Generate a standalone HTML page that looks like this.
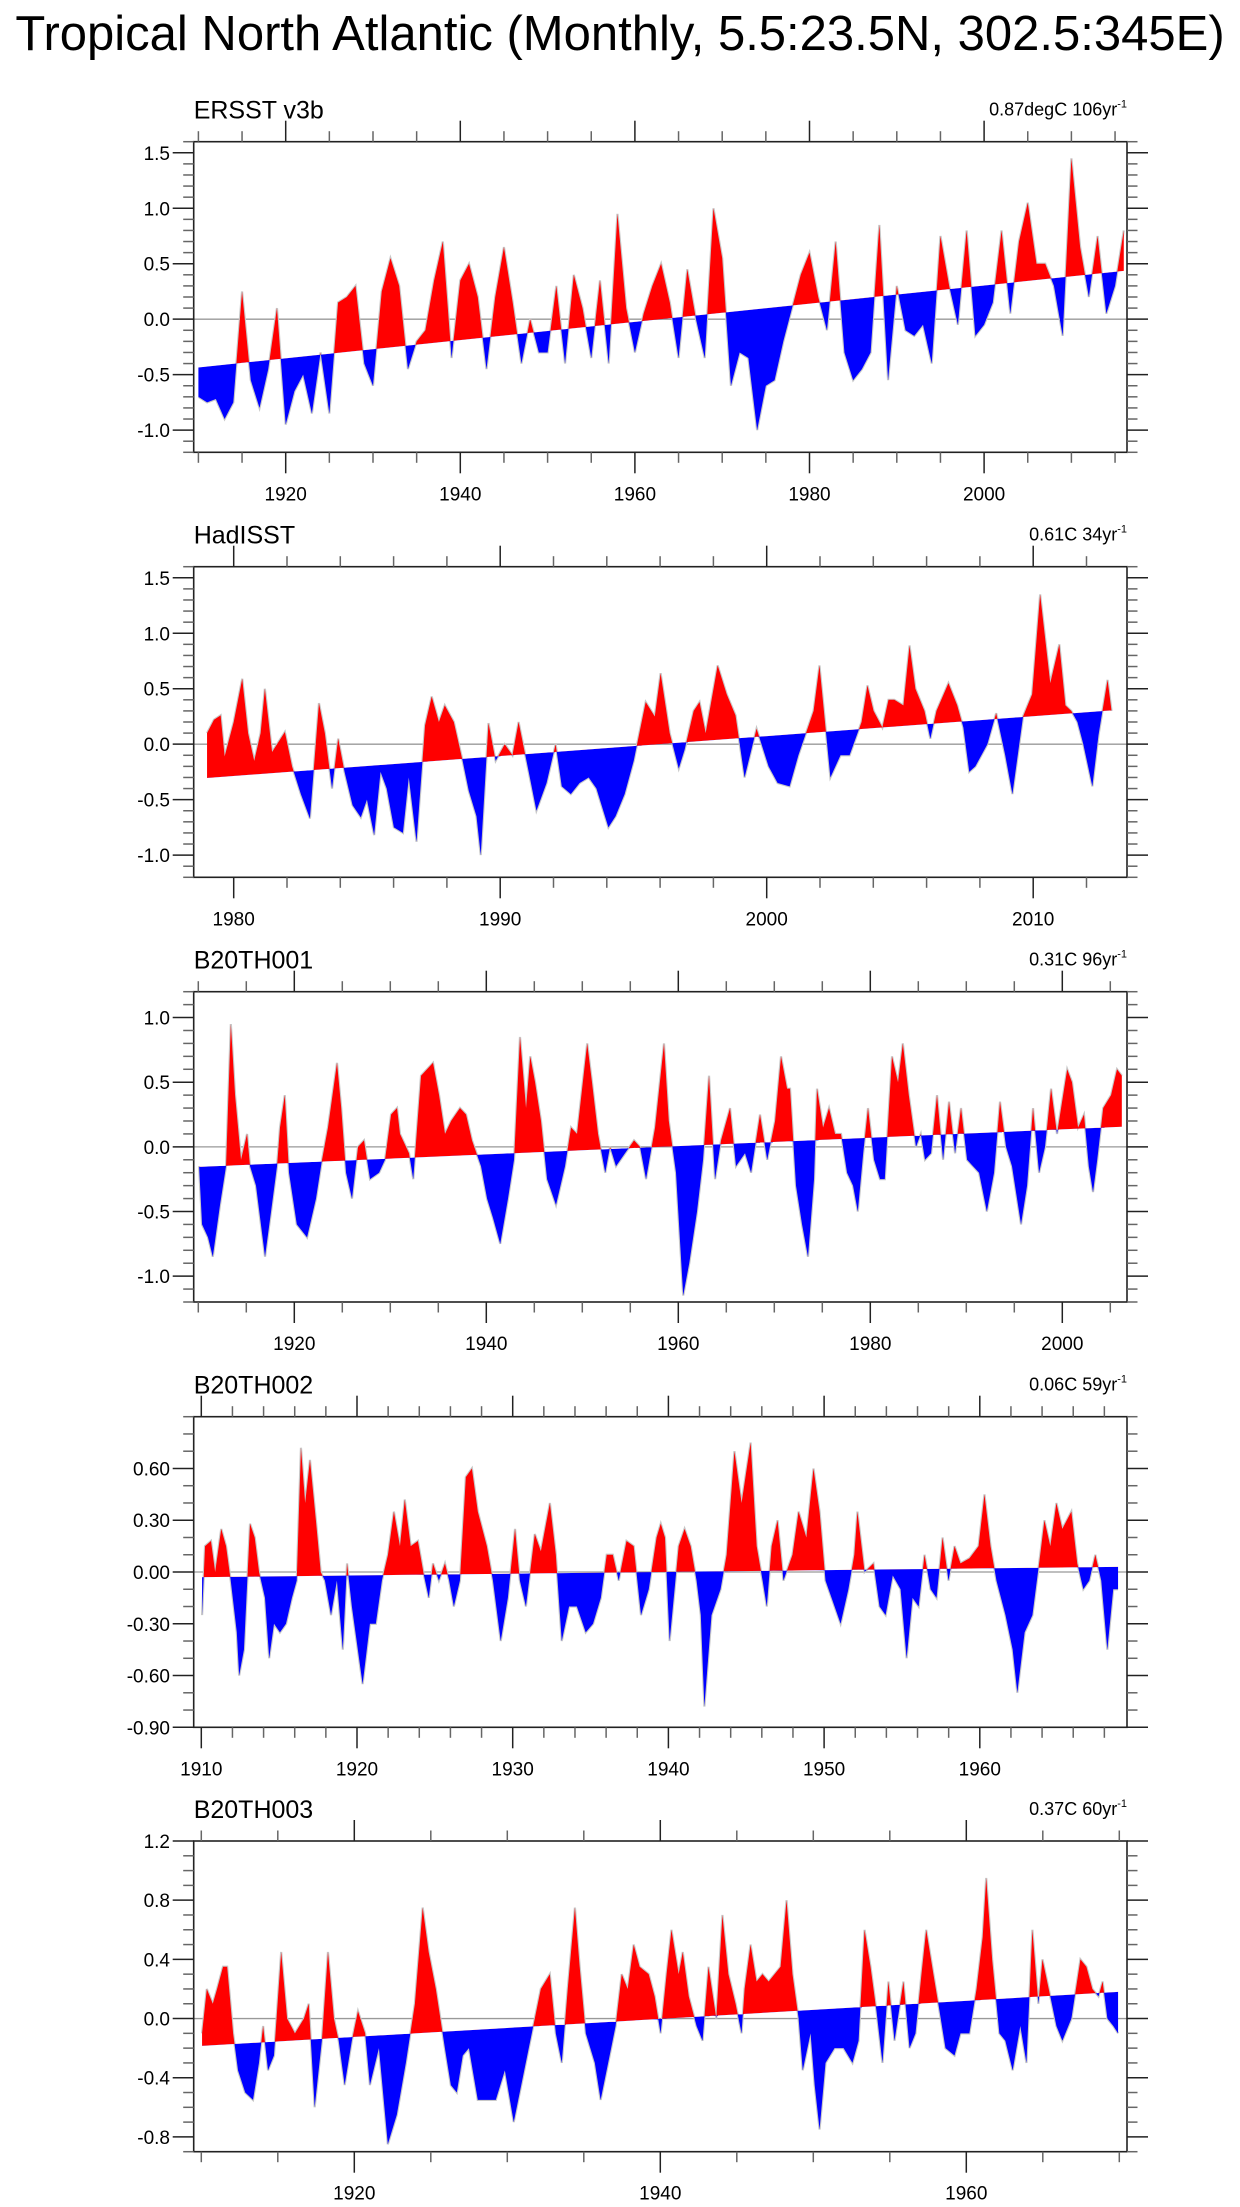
<!DOCTYPE html>
<html><head><meta charset="utf-8"><title>Tropical North Atlantic</title>
<style>
html,body{margin:0;padding:0;background:#fff;}
svg{display:block;font-family:"Liberation Sans",Arial,sans-serif;}
</style></head>
<body>
<svg id="chart" width="1240" height="2207" viewBox="0 0 1240 2207" xmlns="http://www.w3.org/2000/svg">
<rect x="0" y="0" width="1240" height="2207" fill="#fff"/>
<text x="620" y="50" font-size="49" text-anchor="middle" fill="#000">Tropical North Atlantic (Monthly, 5.5:23.5N, 302.5:345E)</text>
</svg>
<script>
// ---------- Panel 1: ERSST v3b (annual samples of monthly anomaly) ----------
const p1Times = [];
for (let y = 1910; y <= 2016; y++) p1Times.push(y);
const p1Values = [-0.7,-0.75,-0.72,-0.9,-0.75,0.25,-0.55,-0.8,-0.45,0.1,
-0.95,-0.65,-0.5,-0.85,-0.3,-0.85,0.15,0.2,0.3,-0.4,
-0.6,0.25,0.55,0.3,-0.45,-0.2,-0.1,0.35,0.7,-0.35,
0.35,0.5,0.2,-0.45,0.2,0.65,0.15,-0.4,0.0,-0.3,
-0.3,0.3,-0.4,0.4,0.1,-0.35,0.35,-0.4,0.95,0.1,
-0.3,0.05,0.3,0.5,0.15,-0.35,0.45,0.0,-0.35,1.0,
0.55,-0.6,-0.3,-0.35,-1.0,-0.6,-0.55,-0.2,0.1,0.4,
0.6,0.2,-0.1,0.7,-0.3,-0.55,-0.45,-0.3,0.85,-0.55,
0.3,-0.1,-0.15,-0.05,-0.4,0.75,0.3,-0.05,0.8,-0.15,
-0.05,0.15,0.8,0.05,0.7,1.05,0.5,0.5,0.3,-0.15,
1.45,0.65,0.2,0.75,0.05,0.3,0.8];
const p1Trend = [-0.435, 0.435];

// ---------- Panel 2: HadISST ----------
const p2Times = [1979.0,1979.26,1979.51,1979.66,1980.0,1980.32,1980.54,1980.77,1981.01,1981.17,1981.44,1981.92,1982.19,1982.52,1982.86,1983.2,1983.42,1983.69,1983.92,1984.16,1984.46,1984.77,1985.0,1985.27,1985.51,1985.74,1986.01,1986.35,1986.57,1986.86,1987.18,1987.43,1987.7,1987.92,1988.26,1988.59,1988.82,1989.11,1989.27,1989.56,1989.83,1990.17,1990.46,1990.69,1991.07,1991.36,1991.74,1992.08,1992.31,1992.65,1992.98,1993.32,1993.61,1994.06,1994.33,1994.67,1995.01,1995.46,1995.8,1996.02,1996.36,1996.7,1996.92,1997.26,1997.48,1997.71,1998.16,1998.5,1998.83,1999.17,1999.62,2000.07,2000.41,2000.86,2001.19,2001.76,2001.98,2002.39,2002.77,2003.11,2003.56,2003.78,2004.01,2004.34,2004.57,2004.79,2005.13,2005.36,2005.58,2005.92,2006.14,2006.37,2006.82,2007.15,2007.38,2007.6,2007.83,2008.28,2008.61,2008.95,2009.22,2009.62,2009.96,2010.26,2010.64,2010.98,2011.21,2011.43,2011.66,2011.88,2012.22,2012.45,2012.79,2012.94];
const p2Values = [0.1,0.22,0.26,-0.11,0.2,0.59,0.1,-0.15,0.1,0.5,-0.07,0.11,-0.2,-0.45,-0.67,0.37,0.1,-0.4,0.05,-0.25,-0.55,-0.66,-0.5,-0.82,-0.25,-0.4,-0.75,-0.8,-0.3,-0.88,0.17,0.43,0.2,0.35,0.2,-0.15,-0.42,-0.65,-1.0,0.19,-0.15,0.0,-0.1,0.2,-0.25,-0.6,-0.35,0.0,-0.38,-0.45,-0.35,-0.3,-0.4,-0.75,-0.65,-0.45,-0.15,0.38,0.25,0.64,0.1,-0.22,-0.05,0.3,0.38,0.1,0.71,0.45,0.26,-0.3,0.14,-0.2,-0.35,-0.38,-0.1,0.3,0.71,-0.3,-0.1,-0.1,0.2,0.53,0.3,0.15,0.4,0.4,0.35,0.89,0.5,0.3,0.05,0.3,0.55,0.35,0.15,-0.25,-0.2,0.0,0.28,-0.1,-0.45,0.25,0.45,1.35,0.55,0.9,0.35,0.3,0.2,0.0,-0.38,0.08,0.58,0.3];
const p2Trend = [-0.305, 0.305];

// ---------- Panel 3: B20TH001 ----------
const p3Times = [1910.08,1910.39,1911.01,1911.51,1912.26,1912.89,1913.39,1913.83,1914.45,1915.08,1915.39,1916.01,1916.95,1917.58,1918.2,1918.51,1919.01,1919.45,1920.26,1921.33,1922.26,1922.89,1923.51,1924.45,1924.89,1925.39,1926.01,1926.64,1927.26,1927.89,1928.83,1929.45,1930.08,1930.7,1931.01,1931.95,1932.39,1933.2,1934.45,1935.08,1935.7,1936.33,1937.26,1937.89,1938.51,1939.45,1940.08,1940.7,1941.45,1942.26,1942.89,1943.51,1944.14,1944.58,1945.08,1945.7,1946.33,1947.26,1948.2,1948.83,1949.45,1950.51,1951.01,1951.64,1952.39,1952.89,1953.51,1954.45,1955.39,1956.01,1956.64,1957.58,1958.51,1959.01,1959.76,1960.51,1961.14,1961.95,1962.58,1963.2,1963.83,1964.45,1965.39,1966.01,1966.95,1967.58,1968.51,1969.26,1970.08,1970.7,1971.33,1971.64,1972.26,1972.89,1973.51,1974.14,1974.45,1975.08,1975.7,1976.33,1976.95,1977.58,1978.2,1978.7,1979.26,1979.76,1980.39,1981.01,1981.51,1982.26,1982.89,1983.39,1984.01,1984.76,1985.26,1985.7,1986.33,1986.95,1987.58,1988.2,1988.83,1989.45,1990.08,1990.7,1991.33,1992.14,1992.89,1993.51,1994.14,1994.76,1995.7,1996.33,1996.95,1997.58,1998.2,1998.83,1999.45,2000.51,2001.01,2001.64,2002.26,2002.76,2003.2,2003.64,2004.26,2005.08,2005.7,2006.2];
const p3Values = [-0.15,-0.6,-0.7,-0.85,-0.45,-0.15,0.95,0.4,-0.1,0.1,-0.15,-0.3,-0.85,-0.5,-0.15,0.15,0.4,-0.2,-0.6,-0.7,-0.4,-0.1,0.15,0.65,0.3,-0.2,-0.4,0.0,0.05,-0.25,-0.2,-0.1,0.25,0.3,0.1,-0.05,-0.25,0.55,0.65,0.4,0.1,0.2,0.3,0.25,0.05,-0.15,-0.4,-0.55,-0.75,-0.4,-0.1,0.85,0.3,0.7,0.5,0.2,-0.25,-0.45,-0.15,0.15,0.1,0.8,0.5,0.1,-0.2,0.0,-0.15,-0.05,0.05,0.0,-0.25,0.15,0.8,0.2,-0.2,-1.15,-0.9,-0.5,-0.1,0.55,-0.25,0.05,0.3,-0.15,-0.05,-0.2,0.25,-0.1,0.2,0.7,0.45,0.45,-0.3,-0.6,-0.85,-0.25,0.45,0.15,0.3,0.1,0.1,-0.2,-0.3,-0.5,-0.05,0.3,-0.1,-0.25,-0.25,0.7,0.5,0.8,0.4,0.0,0.1,-0.1,-0.05,0.4,-0.1,0.35,-0.05,0.3,-0.1,-0.15,-0.2,-0.5,-0.2,0.35,0.0,-0.15,-0.6,-0.3,0.3,-0.2,0.0,0.45,0.1,0.6,0.5,0.15,0.25,-0.15,-0.35,-0.1,0.3,0.4,0.6,0.55];
const p3Trend = [-0.155, 0.155];

// ---------- Panel 4: B20TH002 ----------
const p4Times = [1910.05,1910.24,1910.62,1910.89,1911.28,1911.59,1911.89,1912.28,1912.43,1912.74,1913.13,1913.43,1913.71,1914.09,1914.36,1914.67,1915.05,1915.44,1915.82,1916.13,1916.4,1916.67,1916.98,1917.36,1917.67,1917.94,1918.33,1918.71,1919.09,1919.36,1919.67,1920.36,1920.83,1921.21,1921.6,1921.99,1922.37,1922.76,1923.07,1923.45,1923.91,1924.3,1924.61,1924.88,1925.26,1925.65,1925.92,1926.22,1926.61,1926.99,1927.38,1927.76,1928.34,1928.73,1929.23,1929.69,1930.15,1930.46,1930.85,1931.42,1931.81,1932.39,1932.77,1933.15,1933.62,1934.12,1934.69,1935.16,1935.66,1936.04,1936.43,1936.81,1937.31,1937.77,1938.24,1938.74,1939.24,1939.51,1939.78,1940.08,1940.66,1941.04,1941.43,1941.81,1942.08,1942.31,1942.77,1943.35,1943.74,1944.24,1944.7,1945.28,1945.67,1946.05,1946.32,1946.63,1947.01,1947.39,1947.97,1948.36,1948.86,1949.32,1949.71,1950.09,1950.48,1951.06,1951.56,1951.94,1952.14,1952.6,1953.17,1953.56,1953.95,1954.41,1954.91,1955.3,1955.68,1956.07,1956.45,1956.84,1957.22,1957.61,1957.99,1958.38,1958.76,1959.34,1959.92,1960.3,1960.69,1961.07,1961.65,1962.11,1962.41,1962.88,1963.38,1963.88,1964.15,1964.53,1964.92,1965.3,1965.88,1966.26,1966.65,1967.03,1967.42,1967.8,1968.19,1968.57,1968.88];
const p4Values = [-0.25,0.15,0.18,0.0,0.25,0.15,-0.05,-0.35,-0.6,-0.45,0.28,0.2,0.0,-0.15,-0.5,-0.3,-0.35,-0.3,-0.15,-0.05,0.72,0.4,0.65,0.3,0.0,-0.05,-0.25,-0.05,-0.45,0.05,-0.2,-0.65,-0.3,-0.3,-0.05,0.1,0.35,0.15,0.42,0.15,0.18,-0.02,-0.15,0.05,-0.05,0.05,-0.05,-0.2,-0.05,0.55,0.6,0.35,0.15,-0.05,-0.4,-0.15,0.25,-0.05,-0.2,0.22,0.12,0.4,0.1,-0.4,-0.2,-0.2,-0.35,-0.3,-0.15,0.1,0.1,-0.05,0.18,0.15,-0.25,-0.1,0.2,0.28,0.2,-0.4,0.15,0.25,0.15,-0.05,-0.25,-0.78,-0.25,-0.1,0.1,0.7,0.4,0.75,0.15,-0.05,-0.2,0.15,0.3,-0.05,0.1,0.35,0.2,0.6,0.35,-0.05,-0.15,-0.3,-0.1,0.1,0.35,0.0,0.05,-0.2,-0.25,-0.02,-0.1,-0.5,-0.15,-0.2,0.1,-0.1,-0.15,0.2,-0.05,0.15,0.05,0.08,0.15,0.45,0.15,-0.05,-0.25,-0.45,-0.7,-0.35,-0.25,0.1,0.3,0.15,0.4,0.25,0.35,0.05,-0.1,-0.05,0.1,-0.05,-0.45,-0.1,-0.1];
const p4Trend = [-0.03, 0.03];

// ---------- Panel 5: B20TH003 ----------
const p5Times = [1910.05,1910.36,1910.75,1911.03,1911.42,1911.69,1912.08,1912.4,1912.87,1913.38,1913.77,1914.04,1914.36,1914.75,1915.22,1915.61,1916.12,1916.71,1917.02,1917.41,1917.88,1918.28,1918.67,1918.98,1919.37,1919.84,1920.24,1920.71,1921.02,1921.61,1922.19,1922.78,1923.37,1923.96,1924.47,1924.86,1925.33,1925.92,1926.31,1926.7,1927.09,1927.49,1928.07,1928.66,1929.25,1929.84,1930.42,1931.01,1931.6,1932.19,1932.78,1933.17,1933.56,1933.95,1934.42,1934.73,1935.13,1935.72,1936.1,1936.69,1937.08,1937.48,1937.87,1938.26,1938.65,1939.24,1939.63,1940.02,1940.41,1940.73,1941.2,1941.47,1941.86,1942.37,1942.76,1943.15,1943.66,1944.06,1944.45,1944.92,1945.31,1945.51,1945.9,1946.29,1946.68,1947.08,1947.47,1947.86,1948.25,1948.64,1949.04,1949.31,1949.82,1950.09,1950.41,1950.8,1951.39,1951.98,1952.56,1952.96,1953.35,1953.74,1954.13,1954.52,1954.91,1955.31,1955.89,1956.29,1956.68,1957.07,1957.38,1957.85,1958.25,1958.64,1959.23,1959.62,1960.2,1960.67,1961.07,1961.3,1961.69,1962.16,1962.55,1963.03,1963.53,1963.93,1964.32,1964.71,1964.98,1965.49,1965.89,1966.28,1966.87,1967.46,1967.85,1968.24,1968.64,1968.91,1969.22,1969.61,1969.92];
const p5Values = [-0.1,0.2,0.1,0.2,0.35,0.35,-0.1,-0.35,-0.5,-0.55,-0.3,-0.05,-0.35,-0.25,0.45,0.0,-0.1,0.0,0.1,-0.6,-0.15,0.45,0.0,-0.15,-0.45,-0.15,0.05,-0.1,-0.45,-0.2,-0.85,-0.65,-0.3,0.1,0.75,0.45,0.2,-0.2,-0.45,-0.5,-0.25,-0.2,-0.55,-0.55,-0.55,-0.35,-0.7,-0.4,-0.1,0.2,0.3,-0.1,-0.3,0.2,0.75,0.35,-0.1,-0.3,-0.55,-0.25,-0.05,0.3,0.2,0.5,0.35,0.3,0.15,-0.1,0.3,0.6,0.3,0.45,0.15,-0.05,-0.15,0.35,0.0,0.7,0.3,0.1,-0.1,0.2,0.5,0.25,0.3,0.25,0.3,0.35,0.8,0.3,0.0,-0.35,-0.1,-0.45,-0.75,-0.3,-0.2,-0.2,-0.3,-0.15,0.6,0.35,0.05,-0.3,0.25,-0.15,0.25,-0.2,-0.1,0.3,0.6,0.3,0.05,-0.2,-0.25,-0.1,-0.1,0.2,0.55,0.95,0.4,-0.1,-0.15,-0.35,-0.05,-0.3,0.6,0.1,0.4,0.15,-0.05,-0.15,0.0,0.4,0.35,0.2,0.15,0.25,0.0,-0.05,-0.1];
const p5Trend = [-0.185, 0.18];

// ---------- Axis tick labels ----------
const p1YLabels = ["1.5","1.0","0.5","0.0","-0.5","-1.0"];
const p2YLabels = ["1.5","1.0","0.5","0.0","-0.5","-1.0"];
const p3YLabels = ["1.0","0.5","0.0","-0.5","-1.0"];
const p4YLabels = ["0.60","0.30","0.00","-0.30","-0.60","-0.90"];
const p5YLabels = ["1.2","0.8","0.4","0.0","-0.4","-0.8"];
const p1XLabels = [1920,1940,1960,1980,2000];
const p2XLabels = [1980,1990,2000,2010];
const p3XLabels = [1920,1940,1960,1980,2000];
const p4XLabels = [1910,1920,1930,1940,1950,1960];
const p5XLabels = [1920,1940,1960];

// ---------- Layout (not data) ----------
const NS = "http://www.w3.org/2000/svg";
const svg = document.getElementById("chart");
const BOX_L = 193.7, BOX_R = 1127;
const layouts = [
 {key:"ersst", title:"ERSST v3b", rate:"0.87degC 106yr", top:141.7, bottom:452.3, ymin:-1.2, ymax:1.6, refYr:1910, refPx:198.4, ppy:8.73, minorX:5, times:p1Times, vals:p1Values, trend:p1Trend, yl:p1YLabels, xl:p1XLabels},
 {key:"hadisst", title:"HadISST", rate:"0.61C 34yr", top:566.7, bottom:877.3, ymin:-1.2, ymax:1.6, refYr:1980, refPx:233.7, ppy:26.65, minorX:2, times:p2Times, vals:p2Values, trend:p2Trend, yl:p2YLabels, xl:p2XLabels},
 {key:"b20th001", title:"B20TH001", rate:"0.31C 96yr", top:991.7, bottom:1302, ymin:-1.2, ymax:1.2, refYr:1910, refPx:198.3, ppy:9.6, minorX:5, times:p3Times, vals:p3Values, trend:p3Trend, yl:p3YLabels, xl:p3XLabels},
 {key:"b20th002", title:"B20TH002", rate:"0.06C 59yr", top:1416.7, bottom:1727.3, ymin:-0.9, ymax:0.9, refYr:1910, refPx:201.3, ppy:15.57, minorX:2, times:p4Times, vals:p4Values, trend:p4Trend, yl:p4YLabels, xl:p4XLabels},
 {key:"b20th003", title:"B20TH003", rate:"0.37C 60yr", top:1841, bottom:2151.7, ymin:-0.9, ymax:1.2, refYr:1910, refPx:201.3, ppy:15.3, minorX:5, times:p5Times, vals:p5Values, trend:p5Trend, yl:p5YLabels, xl:p5XLabels}
];

function mk(tag, attrs, parent){
  const e = document.createElementNS(NS, tag);
  for (const k in attrs) e.setAttribute(k, attrs[k]);
  (parent||svg).appendChild(e);
  return e;
}

layouts.forEach(function(P, idx){
  const g = mk("g", {});
  
  
  const xs = t => P.refPx + P.ppy*(t - P.refYr);
  const ys = v => P.top + (P.ymax - v)/(P.ymax - P.ymin)*(P.bottom - P.top);
  const xToT = x => P.refYr + (x - P.refPx)/P.ppy;
  const t0 = P.times[0], t1 = P.times[P.times.length-1];
  const tr = t => P.trend[0] + (P.trend[1]-P.trend[0])*(t - t0)/(t1 - t0);

  const defs = mk("defs", {}, g);
  const cpA = mk("clipPath", {id:"above"+idx}, defs);
  const tL = xToT(BOX_L), tR = xToT(BOX_R);
  mk("polygon", {points: BOX_L+","+ys(tr(tL))+" "+BOX_R+","+ys(tr(tR))+" "+BOX_R+","+(P.top-5)+" "+BOX_L+","+(P.top-5)}, cpA);
  const cpB = mk("clipPath", {id:"below"+idx}, defs);
  mk("polygon", {points: BOX_L+","+ys(tr(tL))+" "+BOX_R+","+ys(tr(tR))+" "+BOX_R+","+(P.bottom+5)+" "+BOX_L+","+(P.bottom+5)}, cpB);

  const zl = mk("line", {x1:BOX_L, x2:BOX_R, y1:ys(0), y2:ys(0), stroke:"#999", "stroke-width":1.3}, g);
  
  

  let lp = "";
  P.times.forEach((t,i)=>{ lp += (i?" L":"M") + xs(t).toFixed(2) + " " + ys(P.vals[i]).toFixed(2); });
  const gl = mk("path", {d: lp, fill:"none", stroke:"#c8c8c8", "stroke-width":2.2}, g);
  
  

  let ap = lp;
  ap += " L" + xs(t1).toFixed(2) + " " + ys(tr(t1)).toFixed(2);
  ap += " L" + xs(t0).toFixed(2) + " " + ys(tr(t0)).toFixed(2) + " Z";
  const red = mk("path", {d: ap, fill:"#ff0000", "clip-path":"url(#above"+idx+")"}, g);
  
  
  const blue = mk("path", {d: ap, fill:"#0000ff", "clip-path":"url(#below"+idx+")"}, g);
  
  

  const box = mk("rect", {x:BOX_L, y:P.top, width:BOX_R-BOX_L, height:P.bottom-P.top, fill:"none", stroke:"#222", "stroke-width":1.6}, g);
  
  

  const majors = P.yl.map(Number);
  const nSteps = Math.round((P.ymax - P.ymin)/0.1);
  for (let k=0;k<=nSteps;k++){
    const v = P.ymin + k*0.1;
    const isMaj = majors.some(m => Math.abs(m - v) < 1e-6);
    const len = isMaj ? 21 : 10.5;
    const col = isMaj ? "#222" : "#666";
    const y = ys(v);
    mk("line", {x1:BOX_L-len, x2:BOX_L, y1:y, y2:y, stroke:col, "stroke-width":1.5}, g);
    mk("line", {x1:BOX_R, x2:BOX_R+len, y1:y, y2:y, stroke:col, "stroke-width":1.5}, g);
  }
  P.yl.forEach(function(lbl){
    const t = mk("text", {x:170, y:ys(Number(lbl))+7, "font-size":19, "text-anchor":"end", fill:"#000"}, g);
    t.textContent = lbl;
    
    
  });

  const yStart = Math.ceil(xToT(BOX_L)), yEnd = Math.floor(xToT(BOX_R));
  for (let yr = yStart; yr <= yEnd; yr++){
    if (yr % P.minorX !== 0) continue;
    const isMaj = P.xl.indexOf(yr) >= 0;
    const len = isMaj ? 21 : 10.5;
    const col = isMaj ? "#222" : "#666";
    const x = xs(yr);
    mk("line", {x1:x, x2:x, y1:P.top-len, y2:P.top, stroke:col, "stroke-width":1.5}, g);
    mk("line", {x1:x, x2:x, y1:P.bottom, y2:P.bottom+len, stroke:col, "stroke-width":1.5}, g);
  }
  P.xl.forEach(function(yr){
    const t = mk("text", {x:xs(yr), y:P.bottom+48, "font-size":19, "text-anchor":"middle", fill:"#000"}, g);
    t.textContent = String(yr);
    
    
  });

  const tt = mk("text", {x:BOX_L, y:P.top-23, "font-size":25, fill:"#000"}, g);
  tt.textContent = P.title;
  
  
  const rt = mk("text", {x:BOX_R, y:P.top-26, "font-size":18, "text-anchor":"end", fill:"#000"}, g);
  
  
  const s1 = mk("tspan", {}, rt);
  s1.textContent = P.rate;
  const s2 = mk("tspan", {dy:-8, "font-size":11}, rt);
  s2.textContent = "-1";
});
</script>
</body></html>
